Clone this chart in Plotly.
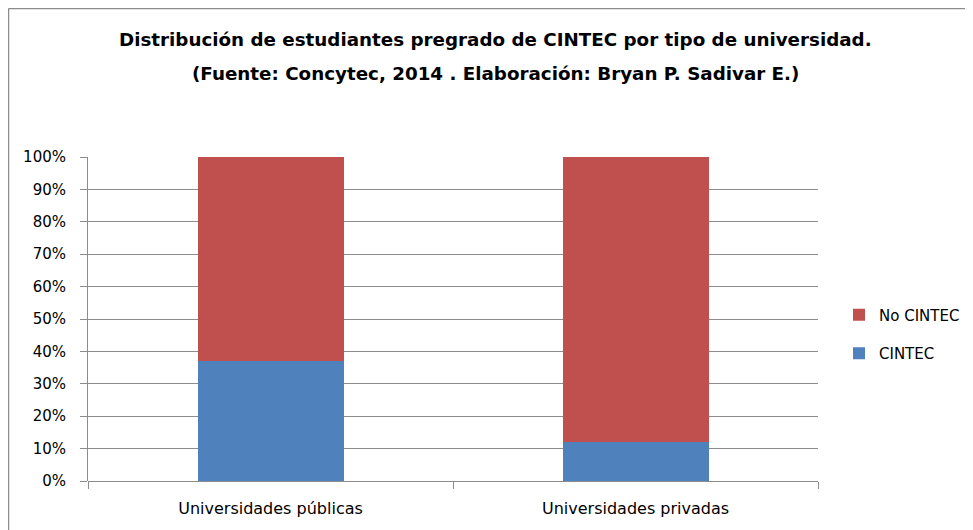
import plotly.graph_objects as go

categories = ["Universidades públicas", "Universidades privadas"]
cintec = [0.370, 0.121]
no_cintec = [0.630, 0.879]
title_lines = [
    "Distribución de estudiantes pregrado de CINTEC por tipo de universidad.",
    "(Fuente: Concytec, 2014 . Elaboración: Bryan P. Sadivar E.)",
]

OFF = 8  # page body margin
W, H = 973 - OFF, 530 - OFF
# plot area in page pixels
L, R, T, B = 88, 818, 157, 481

def px(x):
    return (x - L) / (R - L)

def py(y):
    return (B - y) / (B - T)

fig = go.Figure()
fig.add_trace(go.Bar(x=categories, y=cintec, name="CINTEC",
                     marker=dict(color="#4F81BD", line=dict(width=0)),
                     legendgroup="b", legendrank=2, hoverinfo="y+name"))
fig.add_trace(go.Bar(x=categories, y=no_cintec, name="No CINTEC",
                     marker=dict(color="#C0504D", line=dict(width=0)),
                     legendgroup="a", legendrank=1, hoverinfo="y+name"))

fig.update_layout(
    width=W, height=H,
    margin=dict(l=L - OFF, r=973 - R, t=T - OFF, b=530 - B, pad=0,
                autoexpand=False),
    paper_bgcolor="white", plot_bgcolor="white",
    barmode="stack", bargap=0.6,
    font=dict(family="DejaVu Sans", size=15, color="#000000"),
    legend=dict(
        x=px(839), xanchor="left", y=py(334), yanchor="middle",
        traceorder="grouped", tracegroupgap=16,
        font=dict(family="DejaVu Sans", size=15),
        bgcolor="rgba(0,0,0,0)",
    ),
    xaxis=dict(
        showgrid=False, showline=False, zeroline=False,
        ticks="outside", tickson="boundaries", ticklen=7, tickcolor="#8c8c8c",
        ticklabelstandoff=16,
        tickfont=dict(family="DejaVu Sans", size=16),
    ),
    yaxis=dict(
        range=[0, 1], dtick=0.1, tickformat=".0%",
        showgrid=True, gridcolor="#8c8c8c", gridwidth=1,
        showline=True, linecolor="#8c8c8c", linewidth=1,
        zeroline=True, zerolinecolor="#8c8c8c", zerolinewidth=1,
        ticks="outside", ticklen=7, tickcolor="#8c8c8c",
        ticklabelstandoff=11,
        tickfont=dict(family="DejaVu Sans", size=15),
    ),
    annotations=[
        dict(text="<b>" + title_lines[0] + "</b>", xref="paper", yref="paper",
             x=px(495), y=py(40), xanchor="center", yanchor="middle",
             showarrow=False, font=dict(family="DejaVu Sans", size=18.3)),
        dict(text="<b>" + title_lines[1] + "</b>", xref="paper", yref="paper",
             x=px(495), y=py(74), xanchor="center", yanchor="middle",
             showarrow=False, font=dict(family="DejaVu Sans", size=18.3)),
    ],
    shapes=[
        dict(type="line", xref="paper", yref="paper",
             x0=px(8.5), x1=px(975), y0=py(8.5), y1=py(8.5),
             line=dict(color="#8c8c8c", width=1.5)),
        dict(type="line", xref="paper", yref="paper",
             x0=px(8.5), x1=px(8.5), y0=py(8.5), y1=py(532),
             line=dict(color="#8c8c8c", width=1.5)),
    ],
)

fig.write_html("out.html")
